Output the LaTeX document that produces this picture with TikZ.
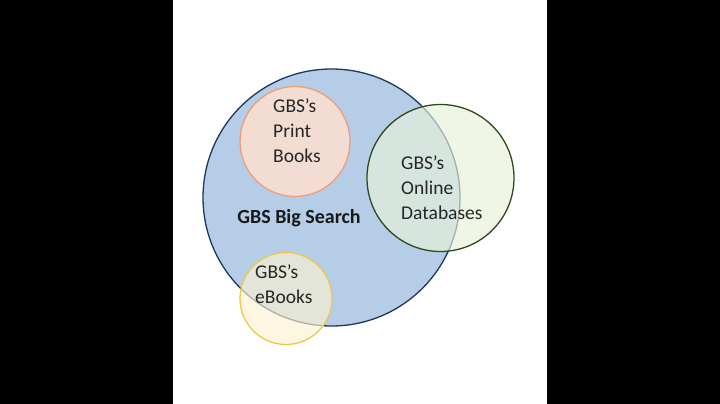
\documentclass[tikz,border=0pt]{standalone}
\usepackage{fontspec}
\setmainfont{Carlito}
\usepackage{tikz}
\usetikzlibrary{positioning}
\definecolor{bigfill}{HTML}{B5CDE6}
\definecolor{bigline}{HTML}{1E3760}
\definecolor{printfill}{HTML}{F3DDD3}
\definecolor{printline}{HTML}{EC9E7B}
\definecolor{onlinefill}{HTML}{E8F2DA}
\definecolor{onlineline}{HTML}{2D4A1E}
\definecolor{ebookfill}{HTML}{FDF3D3}
\definecolor{ebookline}{HTML}{EFC84A}

\begin{document}
\begin{tikzpicture}[
    x=1pt, y=-1pt,
    font=\fontsize{19.5}{25}\selectfont,
    set/.style={circle, line width=1.3pt, inner sep=0pt},
    seethrough/.style={set, fill opacity=0.65},
    lbl/.style={align=left, anchor=north west, inner sep=0pt, text=black!85}
]
% ===== frame =====
\fill[black] (0,0) rectangle (720,404);
\fill[white] (173,0) rectangle (547,404);
\useasboundingbox (0,0) rectangle (720,404);

% ===== sets =====
\node[set, draw=bigline, fill=bigfill, minimum size=257pt] (big) at (331.5,197.5) {};
\node[set, draw=printline, fill=printfill, minimum size=110pt] (print) at (295,141.5) {};
\node[seethrough, draw=onlineline, fill=onlinefill, minimum size=147pt] (online) at (440.5,178) {};
\node[seethrough, draw=ebookline, fill=ebookfill, minimum size=92pt] (ebook) at (286,298.5) {};

% ===== labels =====
\node[lbl] (printtxt) at (273,99) {GBS’s\\Print\\Books};
\node[lbl] (onlinetxt) at (401,155.5) {GBS’s\\Online\\Databases};
\node[lbl] (ebooktxt) at (255,265) {GBS’s\\eBooks};
\node[font=\fontsize{20}{24}\selectfont\bfseries, text=black!90] (bigtxt) at (299,218) {GBS Big Search};
\end{tikzpicture}
\end{document}
